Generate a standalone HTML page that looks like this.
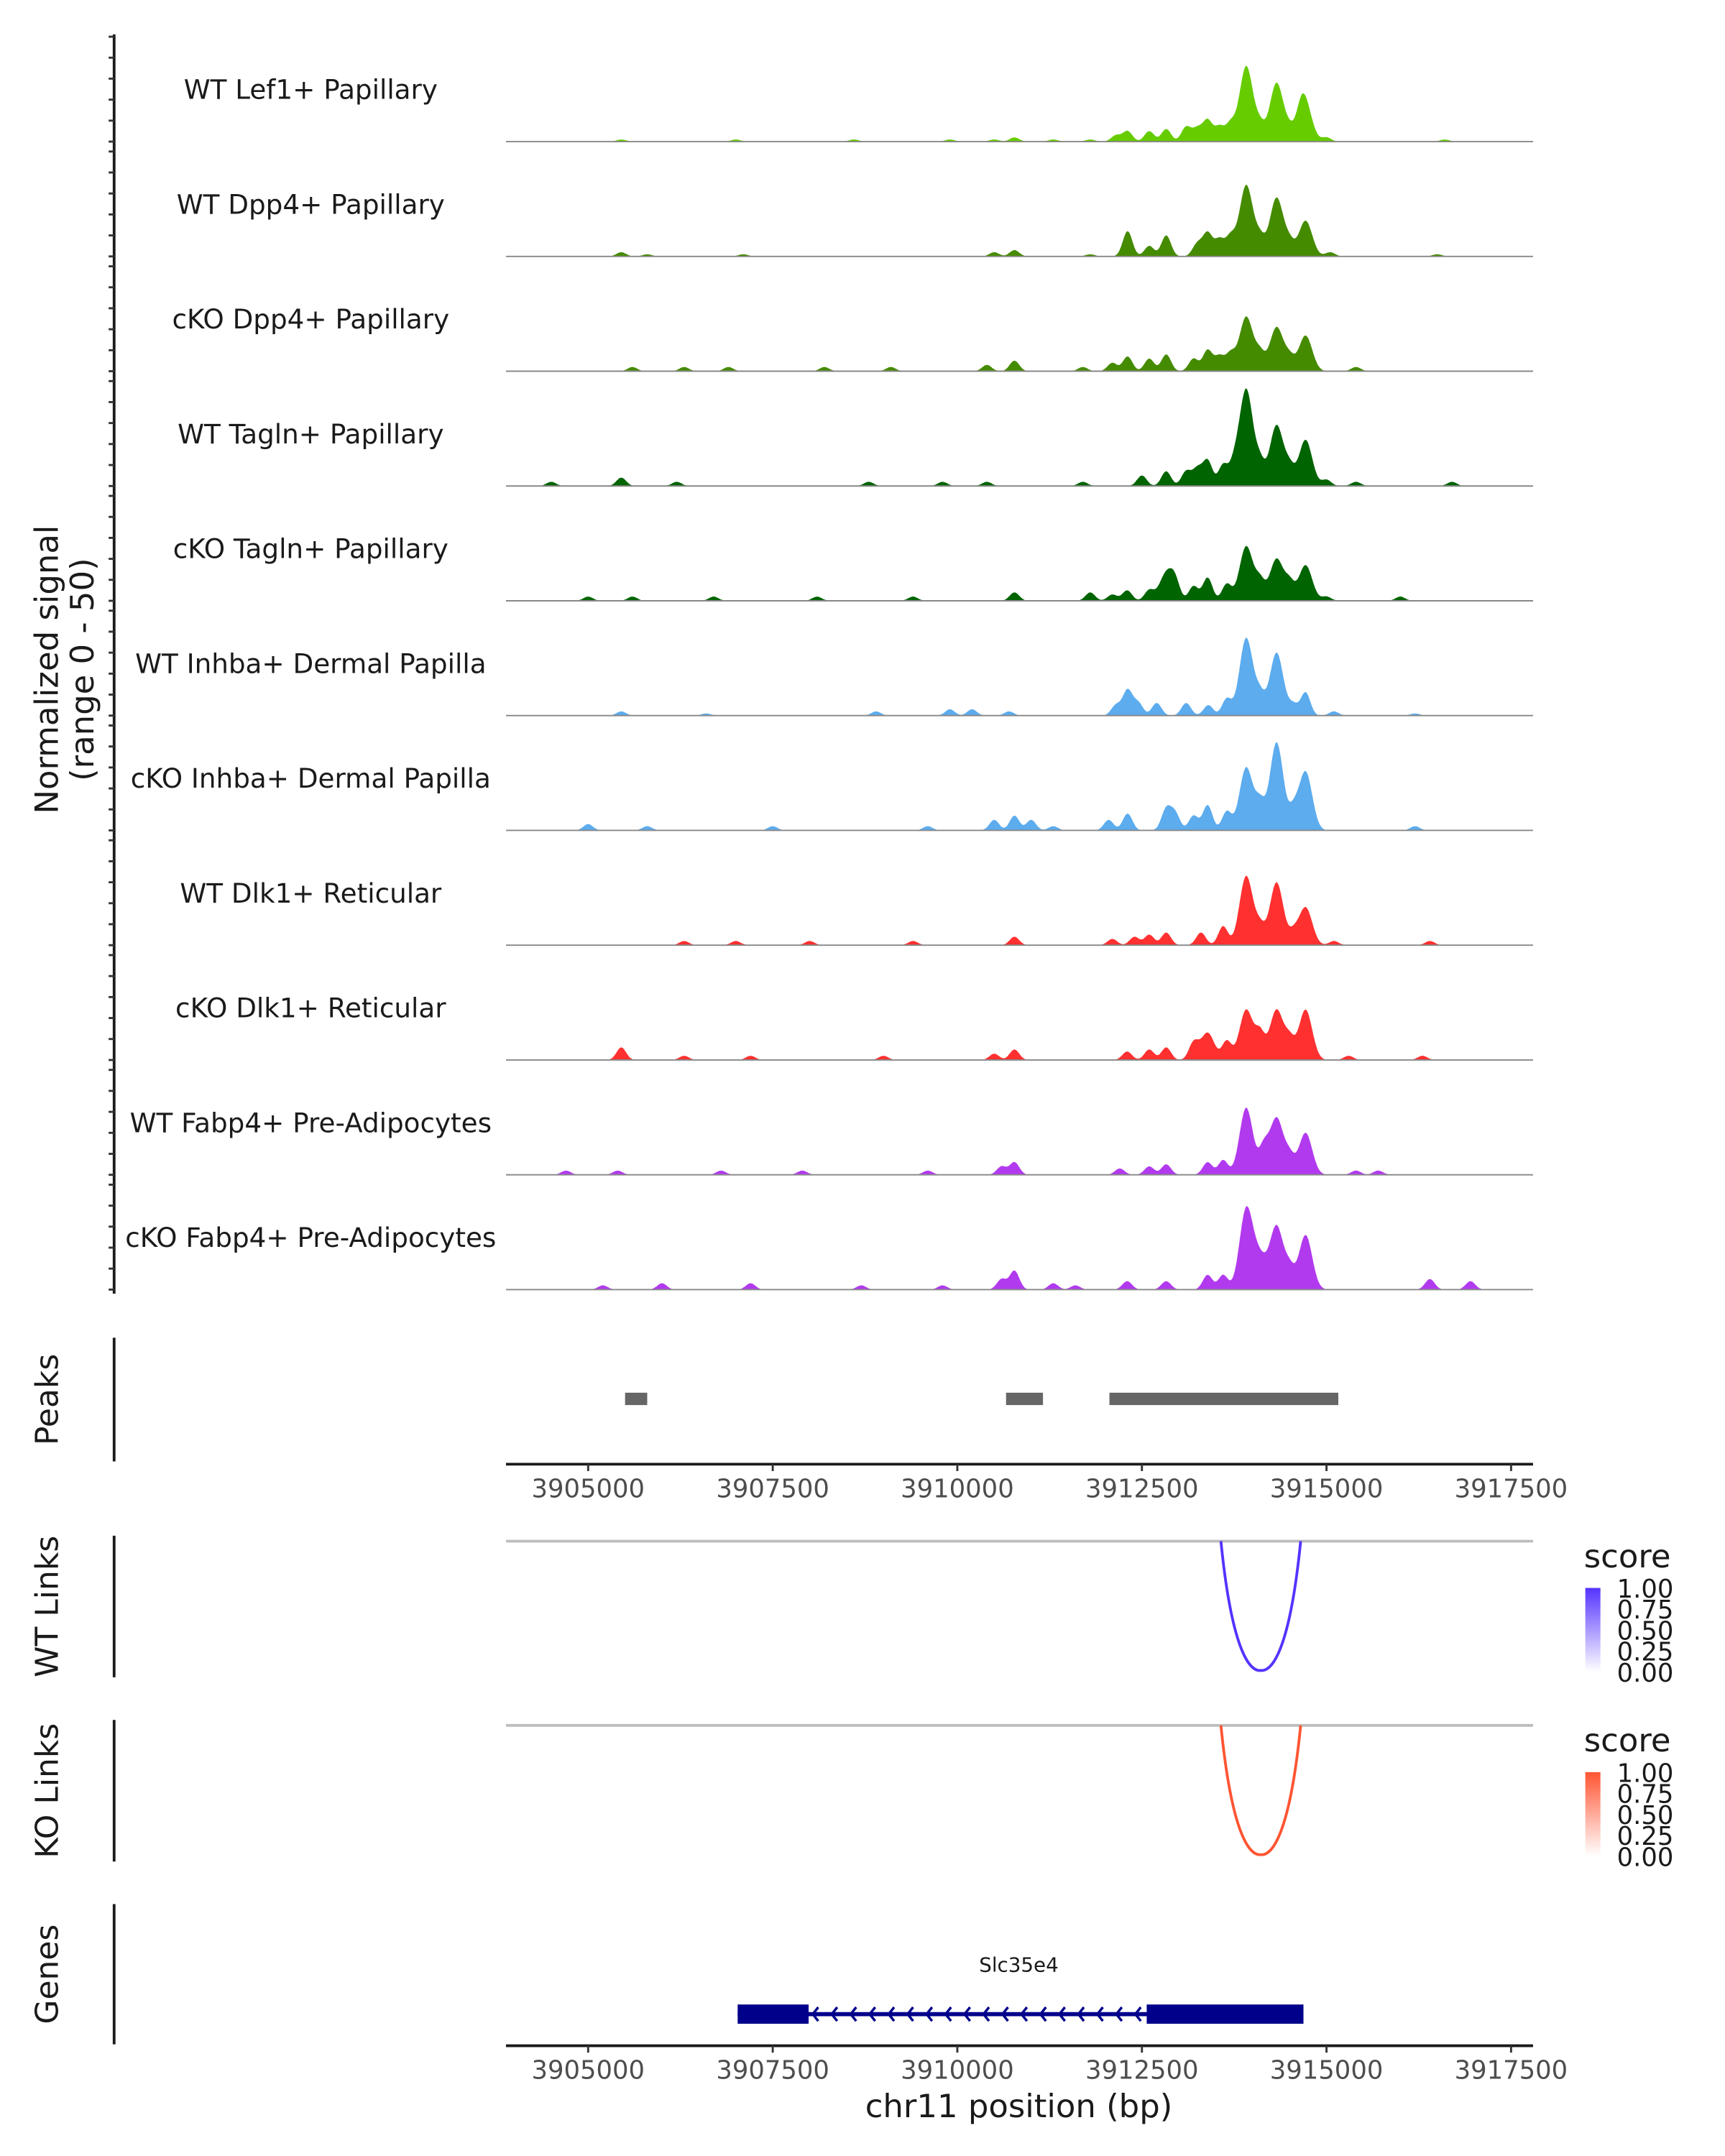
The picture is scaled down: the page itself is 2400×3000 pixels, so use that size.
<!DOCTYPE html>
<html><head><meta charset="utf-8"><style>
html,body{margin:0;padding:0;background:#fff}
svg{display:block;font-family:"DejaVu Sans","Liberation Sans",sans-serif}
</style></head><body>
<svg id="chart" width="2400" height="3000" viewBox="0 0 1254.6 1568.2" preserveAspectRatio="none" xmlns="http://www.w3.org/2000/svg">
<rect width="1254.6" height="1568.2" fill="#fff"/>
<g id="tracks"></g>
<text transform="translate(42,487) rotate(-90)" text-anchor="middle" font-size="23.5" fill="#1a1a1a">Normalized signal</text>
<text transform="translate(68,487) rotate(-90)" text-anchor="middle" font-size="23.5" fill="#1a1a1a">(range 0 - 50)</text>
<g id="peaks"></g>
<g id="links"></g>
<g id="genes"></g>
</svg>
<script>
const trackNames = ["WT Lef1+ Papillary","WT Dpp4+ Papillary","cKO Dpp4+ Papillary","WT Tagln+ Papillary","cKO Tagln+ Papillary","WT Inhba+ Dermal Papilla","cKO Inhba+ Dermal Papilla","WT Dlk1+ Reticular","cKO Dlk1+ Reticular","WT Fabp4+ Pre-Adipocytes","cKO Fabp4+ Pre-Adipocytes"];
const trackColors = ["#66cc00","#458b00","#458b00","#006400","#006400","#5cacee","#5cacee","#ff3030","#ff3030","#b23aee","#b23aee"];
const peakPos = [
 [3913913,3914324,3914716,3914650,3913390,3913250,3913100,3912829,3912600,3912306,3912150,3913550,3913700,3914100,3914500,3915000,3910774,3910500,3909900,3905449,3907000,3908600,3911300,3916600,3911800],
 [3913913,3914324,3914716,3914100,3913390,3913250,3912829,3912600,3912306,3913550,3913700,3914500,3915050,3910774,3910500,3905449,3905800,3907100,3911800,3916500],
 [3913913,3914324,3914716,3914100,3913390,3913200,3912829,3912600,3912306,3912100,3913550,3913700,3914500,3915400,3910774,3910400,3909100,3905600,3906900,3908200,3911700,3906300],
 [3913913,3914324,3914716,3914100,3914500,3913390,3913250,3913100,3912829,3912500,3913600,3913750,3915000,3915400,3905449,3906200,3908800,3909800,3910400,3911700,3904500,3916700],
 [3913913,3914324,3914716,3914100,3914500,3912829,3912950,3913390,3913200,3912600,3912300,3913650,3915000,3910774,3911800,3905000,3906700,3908100,3909400,3912100,3916000,3905600],
 [3913913,3914324,3914716,3914100,3914550,3912306,3912450,3912150,3912700,3913100,3913400,3913650,3915100,3909900,3905449,3906600,3908900,3910700,3910200,3916200],
 [3914324,3913913,3914716,3914100,3914550,3912829,3912950,3913390,3913200,3910774,3910500,3911000,3912306,3912050,3913650,3905000,3905800,3907500,3909600,3916200,3911300],
 [3913913,3914324,3914716,3914100,3914550,3912829,3912600,3913300,3913600,3910774,3912400,3912100,3908000,3906300,3909400,3915100,3916400,3907000],
 [3913913,3914324,3914716,3914100,3914500,3913390,3913200,3912829,3912600,3912300,3913650,3905449,3910774,3910500,3907200,3909000,3915300,3916300,3906300],
 [3913913,3914324,3914716,3914150,3914500,3913390,3913600,3912829,3912600,3912200,3910774,3910600,3904700,3905400,3906800,3907900,3909600,3915400,3915700],
 [3913913,3914324,3914716,3914100,3914500,3913390,3913600,3912829,3912300,3910774,3910600,3911300,3916400,3916950,3906000,3907200,3908700,3909800,3905200,3911600]
];
const peakHeights = [
 [36,28,17,8,10,6,7,6,5,5,3,7,8,7,5,2,2,1,1,1,1,1,1,1,1],
 [34,28,17,8,11,6,10,5,12,8,9,6,2,3,2,2,1,1,1,1],
 [26,21,17,8,10,6,8,6,7,4,7,8,6,2,5,3,2,2,2,2,2,2],
 [46,29,22,10,8,12,8,7,7,5,10,9,3,2,4,2,2,2,2,2,2,2],
 [26,20,17,9,8,13,8,11,7,5,5,8,2,4,4,2,2,2,2,3,2,2],
 [37,30,11,9,5,12,6,5,6,6,5,8,2,3,2,1,2,2,3,1],
 [42,30,28,12,8,10,8,12,7,7,5,5,8,5,9,3,2,2,2,2,2],
 [33,30,18,8,5,6,5,6,9,4,4,3,2,2,2,2,2,2],
 [24,24,24,12,9,13,8,6,5,4,9,6,5,3,2,2,2,2,2],
 [32,27,20,12,8,6,7,5,4,3,6,4,2,2,2,2,2,2,2],
 [38,30,26,14,9,7,7,4,4,9,5,3,5,4,3,3,2,2,2,2]
];
const peakRegions = [[3905500,3905800],[3910660,3911160],[3912060,3915160]];
const linkStart = [3913570], linkEnd = [3914650];
const tickLabels = [3905000,3907500,3910000,3912500,3915000,3917500];
const signalTicks = [0,10,20,30,40,50];
const geneStart = 3907025, geneEnd = 3914688;
const exonStarts = [3907025,3912565], exonEnds = [3907986,3914688];
const legendTicks = ["1.00","0.75","0.50","0.25","0.00"];

const NS="http://www.w3.org/2000/svg";
const X0=368,X1=1115,BP0=3903887,SC=0.0537;
const xs = bp => X0+(bp-BP0)*SC;
function el(tag,attrs,parent,text){const e=document.createElementNS(NS,tag);for(const k in attrs)e.setAttribute(k,attrs[k]);if(text!==undefined)e.textContent=text;parent.appendChild(e);return e;}
const tracks=document.getElementById('tracks');
let ax=el('line',{x1:83,y1:25,x2:83,y2:941,stroke:'#1a1a1a','stroke-width':2},tracks);


const PXU=1.526;
trackNames.forEach((name,i)=>{
  const base=103+i*83.5;
  const g=el('g',{},tracks);
  
  
  signalTicks.forEach(v=>{const t=el('line',{x1:79,y1:base-v*PXU,x2:83,y2:base-v*PXU,stroke:'#333','stroke-width':1.5},g);
    
    });
  const lb=el('text',{x:226,y:base-31,'text-anchor':'middle','font-size':19.5,fill:'#1a1a1a'},g,name);
  
  
  const pos=peakPos[i],h=peakHeights[i];
  let d='M'+X0+','+base;
  for(let bp=3904000;bp<=3917300;bp+=12){
    let v=0;
    for(let k=0;k<pos.length;k++){const s=h[k]>12?90:65;const dd=(bp-pos[k])/s;if(Math.abs(dd)<4)v+=h[k]*Math.exp(-0.5*dd*dd);}
    v=Math.min(v,50);
    d+=' L'+xs(bp).toFixed(1)+','+(base-v*PXU).toFixed(1);
  }
  d+=' L'+X1+','+base+' Z';
  const p=el('path',{d:d,fill:trackColors[i]},g);
  
  
  const bl=el('line',{x1:X0,y1:base,x2:X1,y2:base,stroke:'#888','stroke-width':1},g);
  
  
});
function xAxis(parent,y){
  const l=el('line',{x1:X0,y1:y,x2:X1,y2:y,stroke:'#1a1a1a','stroke-width':2},parent);
  
  
  tickLabels.forEach(t=>{const x=xs(t);
    const tk=el('line',{x1:x,y1:y,x2:x,y2:y+5,stroke:'#333','stroke-width':1.5},parent);
    
    
    const tl=el('text',{x:x,y:y+24,'text-anchor':'middle','font-size':18.5,fill:'#4d4d4d'},parent,String(t));
    
    });
}
function sideAxis(parent,y1,y2,label){
  const l=el('line',{x1:83,y1:y1,x2:83,y2:y2,stroke:'#1a1a1a','stroke-width':2},parent);
  
  
  const t=el('text',{transform:`translate(42,${(y1+y2)/2}) rotate(-90)`,'text-anchor':'middle','font-size':23,fill:'#1a1a1a'},parent,label);
  
  
}
const pk=document.getElementById('peaks');
sideAxis(pk,973,1063,'Peaks');
peakRegions.forEach(r=>{const b=el('rect',{x:xs(r[0]),y:1013,width:xs(r[1])-xs(r[0]),height:9,fill:'#666'},pk);

});
xAxis(pk,1065);
const lk=document.getElementById('links');
function linkTrack(y0,label,color,gradId){
  sideAxis(lk,y0-4,y0+99,label);
  const bl=el('line',{x1:X0,y1:y0,x2:X1,y2:y0,stroke:'#bdbdbd','stroke-width':2},lk);
  
  
  for(let k=0;k<linkStart.length;k++){
    const a=xs(linkStart[k]),b=xs(linkEnd[k]),m=(a+b)/2;
    const p=el('path',{d:`M${a},${y0} C${a+8},${y0+80} ${m-8},${y0+95} ${m},${y0+94} C${m+8},${y0+95} ${b-8},${y0+80} ${b},${y0}`,fill:'none',stroke:color,'stroke-width':2},lk);
    
    
  }
  const defs=el('defs',{},lk);
  const gr=el('linearGradient',{id:gradId,x1:0,y1:1,x2:0,y2:0},defs);
  el('stop',{offset:0,'stop-color':'#fff'},gr);el('stop',{offset:1,'stop-color':color},gr);
  const st=el('text',{x:1152,y:y0+19,'font-size':23.5,fill:'#1a1a1a'},lk,'score');
  
  
  const cb=el('rect',{x:1153,y:y0+34,width:11,height:61,fill:`url(#${gradId})`},lk);
  
  
  legendTicks.forEach((t,j)=>{const tl=el('text',{x:1176,y:y0+41+j*15.3,'font-size':18.5,fill:'#1a1a1a'},lk,t);
    
    });
}
linkTrack(1121,'WT Links','#5533ff','gb');
linkTrack(1255,'KO Links','#ff5533','gr');
const gn=document.getElementById('genes');
sideAxis(gn,1385,1487,'Genes');
const GY=1465;
const gt=el('text',{x:741,y:1434,'text-anchor':'middle','font-size':14.5,fill:'#1a1a1a'},gn,'Slc35e4');


const gl=el('line',{x1:xs(geneStart),y1:GY,x2:xs(geneEnd),y2:GY,stroke:'#00008b','stroke-width':3},gn);


for(let k=0;k<exonStarts.length;k++){const r=el('rect',{x:xs(exonStarts[k]),y:GY-7,width:xs(exonEnds[k])-xs(exonStarts[k]),height:14,fill:'#00008b'},gn);

}
for(let x=xs(exonEnds[0])+3;x<xs(exonStarts[1])-6;x+=13.8){const c=el('path',{d:`M${x+4},${GY-5} L${x},${GY} L${x+4},${GY+5}`,fill:'none',stroke:'#00008b','stroke-width':1.8},gn);

}
xAxis(gn,1488);
const xt=el('text',{x:741,y:1540,'text-anchor':'middle','font-size':23.5,fill:'#1a1a1a'},gn,'chr11 position (bp)');


</script>
</body></html>
